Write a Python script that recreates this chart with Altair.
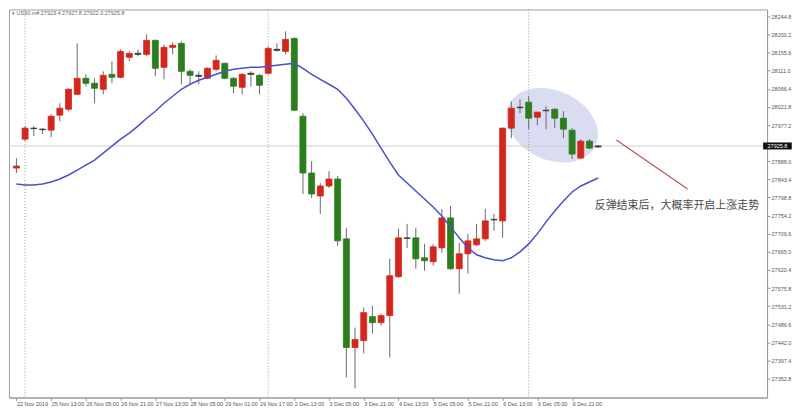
import altair as alt
import pandas as pd
import numpy as np

# ---------------- data ----------------
idx = list(range(68))
opens = [27871.4, 27942.6, 27968.5, 27967.2, 27964.7, 28001.6, 28016.3, 28053.2, 28092.5, 28080.2,
         28065.5, 28102.3, 28095.0, 28144.1, 28151.5, 28151.5, 28185.9, 28119.5, 28168.7, 28178.5,
         28109.7, 28099.9, 28092.5, 28114.6, 28129.4, 28092.5, 28070.4, 28102.3, 28099.9, 28104.8,
         28161.3, 28158.8, 28190.8, 27999.1, 27859.1, 27802.6, 27827.2, 27844.4, 27696.9, 27429.1,
         27446.3, 27505.3, 27490.5, 27507.8, 27603.6, 27698.0, 27699.4, 27650.3, 27640.4, 27674.8,
         27748.5, 27623.2, 27660.1, 27682.2, 27696.9, 27743.6, 27741.2, 27969.7, 28020.0, 28033.5,
         27996.7, 28013.9, 28016.3, 27994.2, 27964.7, 27896.0, 27937.7, 27923.4]
highs = [27896.0, 27974.6, 27974.6, 27969.7, 28004.1, 28031.1, 28067.9, 28178.5, 28102.3, 28092.5,
         28109.7, 28134.3, 28163.8, 28158.8, 28163.8, 28200.6, 28188.3, 28176.0, 28181.0, 28183.4,
         28114.6, 28109.7, 28119.5, 28149.0, 28131.0, 28095.0, 28104.8, 28109.7, 28102.3, 28171.1,
         28178.5, 28208.0, 28193.2, 28006.5, 27888.6, 27834.5, 27864.0, 27851.7, 27724.0, 27478.3,
         27527.4, 27532.3, 27512.7, 27647.8, 27721.5, 27733.8, 27724.0, 27684.6, 27684.6, 27770.6,
         27778.0, 27687.1, 27709.2, 27733.8, 27770.6, 27758.4, 27971.0, 28036.0, 28040.9, 28048.3,
         28010.0, 28023.7, 28018.8, 28011.4, 27969.7, 27942.6, 27942.6, 27927.8]
lows = [27859.1, 27937.7, 27950.0, 27954.9, 27947.5, 27986.9, 28011.4, 28050.7, 28072.9, 28031.1,
        28053.2, 28080.2, 28092.5, 28134.3, 28146.6, 28146.6, 28097.4, 28090.1, 28151.5, 28077.8,
        28077.8, 28077.8, 28090.1, 28109.7, 28090.1, 28055.7, 28053.2, 28072.9, 28053.2, 28102.3,
        28158.8, 28151.5, 28012.0, 27807.5, 27797.7, 27758.4, 27822.2, 27679.7, 27355.4, 27328.4,
        27414.4, 27463.5, 27483.2, 27404.6, 27601.1, 27674.8, 27623.2, 27618.3, 27630.6, 27662.5,
        27621.0, 27561.8, 27610.9, 27679.7, 27692.0, 27716.6, 27699.4, 27945.1, 28006.5, 27967.2,
        27977.0, 27967.2, 27969.7, 27945.1, 27893.5, 27893.5, 27918.1, 27922.0]
closes = [27876.3, 27969.7, 27969.7, 27966.0, 27999.1, 28018.8, 28065.5, 28092.5, 28080.2, 28067.9,
          28099.9, 28095.0, 28158.8, 28153.9, 28153.9, 28185.9, 28117.1, 28168.7, 28173.6, 28109.7,
          28099.9, 28097.4, 28117.1, 28136.7, 28092.5, 28072.9, 28102.3, 28104.8, 28075.3, 28166.2,
          28163.8, 28188.3, 28013.9, 27859.1, 27807.5, 27827.2, 27844.4, 27692.0, 27429.1, 27448.8,
          27515.1, 27490.5, 27507.8, 27606.0, 27699.4, 27699.4, 27647.8, 27642.9, 27677.3, 27748.5,
          27623.2, 27660.1, 27692.0, 27696.9, 27741.2, 27745.0, 27969.7, 28018.8, 28021.3, 27994.2,
          28009.0, 28012.5, 27994.2, 27967.2, 27905.8, 27937.7, 27920.5, 27925.8]
ma = [27832.1, 27829.6, 27829.6, 27832.1, 27837.0, 27844.4, 27854.2, 27866.5, 27878.8, 27891.0,
      27908.2, 27925.4, 27942.6, 27957.4, 27974.6, 27994.2, 28011.4, 28031.1, 28048.3, 28065.5,
      28077.8, 28087.6, 28095.0, 28102.3, 28109.7, 28114.6, 28117.1, 28119.5, 28119.5, 28122.0,
      28124.5, 28126.9, 28129.4, 28117.1, 28102.3, 28090.1, 28077.8, 28065.5, 28043.4, 28016.3,
      27986.9, 27954.9, 27920.5, 27886.1, 27854.2, 27834.5, 27814.9, 27795.2, 27775.6, 27753.4,
      27726.4, 27699.4, 27674.8, 27657.6, 27650.3, 27645.3, 27642.9, 27650.3, 27665.0, 27684.6,
      27709.2, 27738.7, 27765.7, 27790.3, 27812.4, 27827.2, 27837.0, 27846.8]

x_label_pos = [0, 4, 8, 12, 16, 20, 24, 28, 32, 36, 40, 44, 48, 52, 56, 60, 64]
x_labels = ["22 Nov 2019", "25 Nov 13:00", "26 Nov 05:00", "26 Nov 21:00", "27 Nov 13:00",
            "28 Nov 05:00", "29 Nov 01:00", "29 Nov 17:00", "2 Dec 13:00", "3 Dec 05:00",
            "3 Dec 21:00", "4 Dec 13:00", "5 Dec 05:00", "5 Dec 21:00", "6 Dec 13:00",
            "9 Dec 05:00", "9 Dec 21:00"]
y_ticks = [28244.8, 28200.2, 28155.6, 28111.0, 28066.4, 28021.8, 27977.2, 27888.0, 27843.4,
           27798.8, 27754.2, 27709.6, 27665.0, 27620.4, 27575.8, 27531.2, 27486.6, 27442.0,
           27397.4, 27352.8]
separators = [1, 29, 59]
last_price = 27925.8
header = "US30.m# 27923.4 27927.8 27922.0 27925.8"
note_text = "反弹结束后，大概率开启上涨走势"

# annotation anchors (data units: candle index, price)
ellipse_pos = {"i": [61.7], "p": [27977.0]}
arrow_pos = {"x0": [69.1], "x1": [77.3], "y0": [27940.2], "y1": [27819.8]}
note_pos = {"i": [66.6], "p": [27778.0], "t": [note_text]}
tag_pos = {"x0": [86.0], "x1": [89.3], "y0": [27934.4], "y1": [27917.2],
           "xm": [87.65], "p": [last_price], "t": [f"{last_price:.1f}"]}

# ---------------- build ----------------
df = pd.DataFrame({"i": idx, "o": opens, "h": highs, "l": lows, "c": closes})
df["kind"] = np.where((df.c - df.o).abs() < 3, "flat", np.where(df.c > df.o, "up", "down"))
df_ma = pd.DataFrame({"i": idx, "ma": ma})

xs = alt.Scale(domain=[-0.28, 85.88], nice=False, zero=False)
ys = alt.Scale(domain=[27306, 28262], nice=False, zero=False)
color_scale = alt.Scale(domain=["up", "down", "flat"], range=["#d3261c", "#2b7d1d", "#333333"])

label_expr = "[" + ",".join(f"'{s}'" for s in x_labels) + "][round(datum.value/4)]"

x_axis = alt.Axis(values=x_label_pos, labelExpr=label_expr, labelAlign="left", labelFontSize=5.5,
                  labelColor="#555", tickSize=3, tickColor="#999", domainColor="#999",
                  labelPadding=1, grid=False, title=None, labelOverlap=False,
                  labelFont="Liberation Sans", labelBound=False, labelFlush=False)
y_axis = alt.Axis(orient="right", values=y_ticks, format=".1f", labelFontSize=5.5, labelColor="#555",
                  tickSize=3, tickColor="#999", domainColor="#999", labelPadding=1, grid=False,
                  title=None, labelOverlap=False, labelFont="Liberation Sans", labelBound=False,
                  labelFlush=False)


def X(f):
    return alt.X(f, scale=xs, axis=x_axis, title=None)


def Y(f):
    return alt.Y(f, scale=ys, axis=y_axis, title=None)


ellipse = alt.Chart(pd.DataFrame(ellipse_pos)).mark_point(
    shape="M-1,0A1,0.72,0,1,1,1,0A1,0.72,0,1,1,-1,0Z", size=9216, filled=True,
    fill="#dadcf1", opacity=1, angle=25, strokeWidth=0
).encode(x=X("i:Q"), y=Y("p:Q"))

price_line = alt.Chart(pd.DataFrame({"p": [last_price]})).mark_rule(
    color="#cfcfcf", strokeWidth=1
).encode(y=Y("p:Q"))

sep = alt.Chart(pd.DataFrame({"i": separators})).mark_rule(
    color="#9a9a9a", strokeWidth=1, strokeDash=[1, 2]
).encode(x=X("i:Q"))

wicks = alt.Chart(df).mark_rule(color="#6a6a6a", strokeWidth=1).encode(
    x=X("i:Q"), y=Y("l:Q"), y2="h:Q")

bodies = alt.Chart(df).mark_bar(size=6, strokeWidth=0.8).encode(
    x=X("i:Q"), y=Y("o:Q"), y2="c:Q",
    color=alt.Color("kind:N", scale=color_scale, legend=None),
    stroke=alt.Stroke("kind:N", scale=color_scale, legend=None))

ma_line = alt.Chart(df_ma).mark_line(color="#4a4fcf", strokeWidth=1.5).encode(
    x=X("i:Q"), y=Y("ma:Q"))

arrow = alt.Chart(pd.DataFrame(arrow_pos)).mark_rule(color="#c0504d", strokeWidth=1.2).encode(
    x=X("x0:Q"), x2="x1:Q", y=Y("y0:Q"), y2="y1:Q")

note = alt.Chart(pd.DataFrame(note_pos)).mark_text(
    align="left", baseline="middle", fontSize=11, color="#4a4a4a", font="Noto Sans CJK SC"
).encode(x=X("i:Q"), y=Y("p:Q"), text="t:N")

tag = alt.Chart(pd.DataFrame(tag_pos)).mark_rect(color="#111111").encode(
    x=X("x0:Q"), x2="x1:Q", y=Y("y0:Q"), y2="y1:Q")
tag_text = alt.Chart(pd.DataFrame(tag_pos)).mark_text(
    align="center", baseline="middle", fontSize=5.5, color="white", font="Liberation Sans"
).encode(x=X("xm:Q"), y=Y("p:Q"), text="t:N")

head = alt.Chart(pd.DataFrame({"t": ["▾ " + header]})).mark_text(
    align="left", baseline="middle", fontSize=5.5, color="#666", font="Liberation Sans"
).encode(x=alt.value(3), y=alt.value(4), text="t:N")

chart = alt.layer(
    ellipse, price_line, sep, wicks, bodies, ma_line, arrow, note, tag, tag_text, head
).properties(
    width=760, height=389, padding=0, background="white"
).configure_view(stroke="#a0a0a0", strokeWidth=1)

chart.save("out.html", embed_options={"renderer": "svg", "actions": False})
